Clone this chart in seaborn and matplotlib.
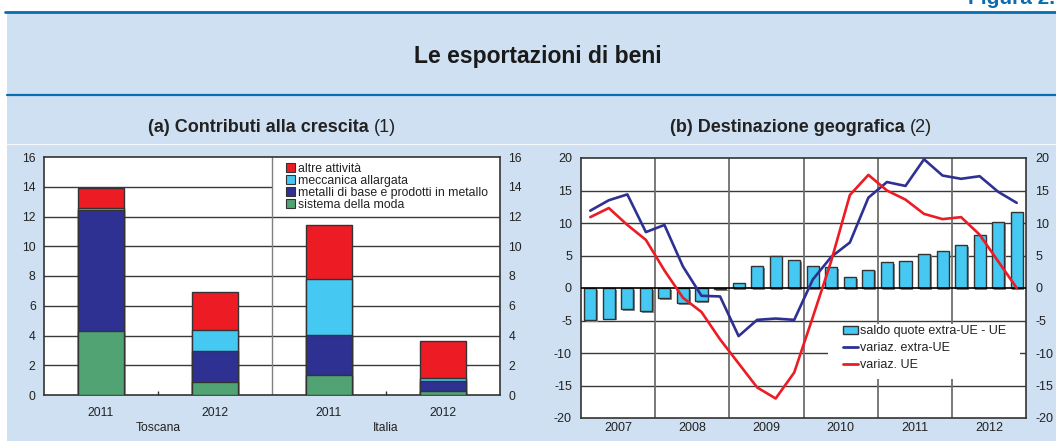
import matplotlib
matplotlib.use("Agg")
import matplotlib.pyplot as plt
import matplotlib.patheffects as pe
from matplotlib.patches import Patch, Rectangle
from matplotlib.lines import Line2D
import numpy as np
import pandas as pd
import seaborn as sns

# (a) contributi alla crescita, punti percentuali
regions = ['Toscana', 'Toscana', 'Italia', 'Italia']
years_a = ['2011', '2012', '2011', '2012']
moda = [4.3, 0.88, 1.35, 0.27]
metalli = [8.13, 2.09, 2.68, 0.68]
meccanica = [0.16, 1.40, 3.74, 0.22]
altre = [1.35, 2.54, 3.63, 2.48]

# (b) destinazione geografica, dati trimestrali 2007-2012
years_b = ['2007', '2008', '2009', '2010', '2011', '2012']
saldo = [-4.9, -4.7, -3.3, -3.6, -1.6, -2.3, -2.0, -0.15, 0.7, 3.4, 4.9, 4.3,
         3.4, 3.2, 1.7, 2.8, 4.0, 4.2, 5.3, 5.7, 6.6, 8.2, 10.1, 11.7]
extra_ue = [11.9, 13.5, 14.4, 8.6, 9.7, 3.3, -1.2, -1.3, -7.4, -4.9, -4.7, -4.9,
            1.3, 4.8, 7.0, 13.9, 16.3, 15.7, 19.8, 17.3, 16.8, 17.2, 14.8, 13.1]
ue = [10.9, 12.3, 9.7, 7.4, 2.7, -1.5, -3.7, -7.9, -11.6, -15.3, -17.0, -13.0,
      -4.5, 4.2, 14.3, 17.4, 15.0, 13.6, 11.4, 10.6, 10.9, 8.2, 4.1, 0.0]

RED = '#ed1c24'
CYAN = '#45c8f1'
NAVY = '#2e3192'
GREEN = '#52a373'
BG = '#cee0f1'
BRAND = '#0a6db1'
EDGE = '#333333'

sns.set_theme(style='white')
plt.rcParams['font.family'] = ['Liberation Sans', 'DejaVu Sans']
plt.rcParams['axes.unicode_minus'] = False
plt.rcParams['text.color'] = '#222222'
plt.rcParams['xtick.color'] = '#222222'
plt.rcParams['ytick.color'] = '#222222'

W, H = 1056, 441
fig = plt.figure(figsize=(W / 100, H / 100), dpi=100, facecolor='white')

# page background and header
fig.add_artist(Rectangle((7 / W, 0), 1, 1 - 13 / H, transform=fig.transFigure,
                         facecolor=BG, edgecolor='none', zorder=-5))
fig.add_artist(Line2D([5 / W, 1], [1 - 11.5 / H] * 2, transform=fig.transFigure,
                      color=BRAND, lw=2.0))
fig.add_artist(Line2D([7 / W, 1], [1 - 94.5 / H] * 2, transform=fig.transFigure,
                      color=BRAND, lw=1.6))
fig.add_artist(Line2D([7 / W, 1], [1 - 144 / H] * 2, transform=fig.transFigure,
                      color='white', lw=0.8, alpha=0.8))
fig.text(968 / W, 1 - 3.5 / H, 'Figura 2.', color=BRAND, fontsize=15,
         fontweight='bold', ha='left', va='baseline')
fig.text(538 / W, 1 - 57 / H, 'Le esportazioni di beni', fontsize=16.5,
         fontweight='bold', ha='center', va='center', color='#1a1a1a')


def panel_title(xc, y, bold, normal):
    t1 = fig.text(0, y, bold, fontsize=13, fontweight='bold', ha='left', va='center')
    t2 = fig.text(0, y, normal, fontsize=13, ha='left', va='center')
    r = fig.canvas.get_renderer()
    w1 = t1.get_window_extent(r).width / W
    w2 = t2.get_window_extent(r).width / W
    gap = 5 / W
    x0 = xc - (w1 + gap + w2) / 2
    t1.set_x(x0)
    t2.set_x(x0 + w1 + gap)


panel_title(272 / W, 1 - 128 / H, '(a) Contributi alla crescita', '(1)')
panel_title(801 / W, 1 - 128 / H, '(b) Destinazione geografica', '(2)')

shadow = [pe.SimplePatchShadow(offset=(1.2, -1.2), shadow_rgbFace='#8c8c8c', alpha=1.0),
          pe.Normal()]

# ---------------- panel (a) ----------------
ax1 = fig.add_axes([44 / W, 1 - 395 / H, 456 / W, 238 / H])
df_a = pd.DataFrame({'cat': [f'{r} {y}' for r, y in zip(regions, years_a)],
                     'sistema della moda': moda,
                     'metalli di base e prodotti in metallo': metalli,
                     'meccanica allargata': meccanica,
                     'altre attività': altre})
layers = ['sistema della moda', 'metalli di base e prodotti in metallo',
          'meccanica allargata', 'altre attività']
colors_a = [GREEN, NAVY, CYAN, RED]
cum = df_a[layers].cumsum(axis=1)

for col, color in reversed(list(zip(layers, colors_a))):
    sns.barplot(x=df_a['cat'], y=cum[col], color=color, saturation=1, width=0.4,
                edgecolor=EDGE, linewidth=1.0, errorbar=None, ax=ax1, zorder=3)
for cont in ax1.containers:
    for bar in cont:
        bar.set_path_effects(shadow)

ax1.set_ylim(0, 16)
ax1.set_xlim(-0.5, len(years_a) - 0.5)
ax1.set_yticks(np.arange(0, 17, 2))
for yv in np.arange(2, 16, 2):
    ax1.axhline(yv, color='#3a3a3a', lw=1.0, zorder=1)
ax1.axvline(1.5, color='#808080', lw=1.0, zorder=2.5)
ax1.axvspan(1.5, 3.5, ymin=0.765, ymax=1, facecolor='white', edgecolor='none', zorder=2)

ax1.set_xticks(range(len(years_a)))
ax1.set_xticklabels(years_a)
ax1.set_xticks([0.5, 2.5], minor=True)
ax1.tick_params(axis='x', which='major', length=0, pad=8.5, labelsize=8.7)
ax1.tick_params(axis='x', which='minor', direction='in', length=3, width=1,
                color='#333333', bottom=True)
ax1.tick_params(axis='y', length=0, labelsize=8.7, pad=6, labelright=True)
ax1.set_xlabel('')
ax1.set_ylabel('')
for s in ax1.spines.values():
    s.set_color('#333333')
    s.set_linewidth(1.2)

for reg in dict.fromkeys(regions):
    idx = [i for i, r in enumerate(regions) if r == reg]
    ax1.annotate(reg, xy=(np.mean(idx), 0), xycoords=('data', 'axes fraction'),
                 xytext=(0, -23.5), textcoords='offset points', ha='center',
                 va='center', fontsize=8.7)

handles_a = [Patch(facecolor=c, edgecolor=EDGE, lw=0.8, label=l)
             for l, c in zip(layers[::-1], colors_a[::-1])]
ax1.legend(handles=handles_a, loc='upper left', bbox_to_anchor=(0.523, 0.99),
           frameon=False, fontsize=8.8, handlelength=0.7, handleheight=0.7,
           handletextpad=0.25, labelspacing=0.0, borderpad=0.3, borderaxespad=0)

# ---------------- panel (b) ----------------
ax2 = fig.add_axes([581 / W, 1 - 418 / H, 445 / W, 260 / H])
df_b = pd.DataFrame({'q': np.arange(len(saldo)), 'saldo': saldo,
                     'extra_ue': extra_ue, 'ue': ue})
sns.barplot(data=df_b, x='q', y='saldo', color=CYAN, saturation=1, width=0.65,
            edgecolor=EDGE, linewidth=1.0, errorbar=None, ax=ax2, zorder=3)
for bar in ax2.containers[0]:
    bar.set_path_effects(shadow)
sns.lineplot(data=df_b, x='q', y='extra_ue', color=NAVY, lw=1.9, ax=ax2,
             sort=False, estimator=None, zorder=5)
sns.lineplot(data=df_b, x='q', y='ue', color=RED, lw=1.9, ax=ax2,
             sort=False, estimator=None, zorder=5)

ax2.set_ylim(-20, 20)
ax2.set_xlim(-0.5, len(saldo) - 0.5)
ax2.set_yticks(np.arange(-20, 21, 5))
for yv in np.arange(-15, 20, 5):
    if yv != 0:
        ax2.axhline(yv, color='#3a3a3a', lw=1.0, zorder=1)
ax2.axhline(0, color='black', lw=1.2, zorder=4)
nq = len(saldo) // len(years_b)
for i in range(1, len(years_b)):
    ax2.axvline(i * nq - 0.5, color='#6e6e6e', lw=1.3, zorder=1.5)
ax2.add_patch(Rectangle((0.556, 0.15), 0.431, 0.2115, transform=ax2.transAxes,
                        facecolor='white', edgecolor='none', zorder=2))

ax2.set_xticks([i * nq + (nq - 1) / 2 for i in range(len(years_b))])
ax2.set_xticklabels(years_b)
ax2.tick_params(axis='x', length=0, pad=3, labelsize=9)
ax2.tick_params(axis='y', length=0, labelsize=9, pad=6.5, labelright=True)
ax2.set_xlabel('')
ax2.set_ylabel('')
for s in ax2.spines.values():
    s.set_color('#333333')
    s.set_linewidth(1.2)

handles_b = [Patch(facecolor=CYAN, edgecolor=EDGE, lw=1.0, label='saldo quote extra-UE - UE'),
             Line2D([], [], color=NAVY, lw=2, label='variaz. extra-UE'),
             Line2D([], [], color=RED, lw=2, label='variaz. UE')]
ax2.legend(handles=handles_b, loc='upper left', bbox_to_anchor=(0.583, 0.367),
           frameon=False, fontsize=9, handlelength=1.2, handleheight=0.65,
           handletextpad=0.2, labelspacing=0.4, borderpad=0.2, borderaxespad=0)

fig.savefig('out.png', dpi=100, facecolor=fig.get_facecolor())
